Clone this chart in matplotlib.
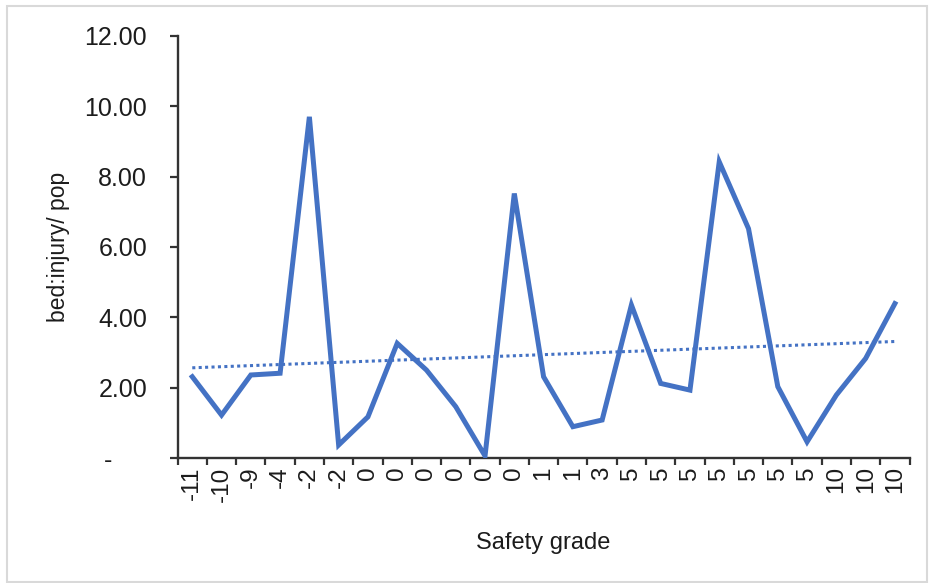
import matplotlib
matplotlib.use("Agg")
import matplotlib.pyplot as plt
from matplotlib.patches import Rectangle
from matplotlib.ticker import FixedLocator, FuncFormatter
import numpy as np

plt.rcParams['font.family'] = ['Liberation Sans', 'DejaVu Sans']

grades = ['-11', '-10', '-9', '-4', '-2', '-2', '0', '0', '0', '0', '0', '0',
          '1', '1', '3', '5', '5', '5', '5', '5', '5', '5', '10', '10', '10']
ratio = [2.31, 1.22, 2.36, 2.41, 9.70, 0.37, 1.17, 3.26, 2.50, 1.46, 0.06, 7.52,
         2.31, 0.89, 1.08, 4.35, 2.12, 1.93, 8.42, 6.52, 2.03, 0.46, 1.79, 2.83, 4.39]

blue = '#4472C4'
ink = '#1c1c1c'

fig = plt.figure(figsize=(9.3, 5.83), dpi=100)
ax = fig.add_axes([0.191, 0.2144, 0.787, 0.724])

x = np.arange(len(ratio))
ax.plot(x, ratio, color=blue, lw=3.6, solid_joinstyle='miter', zorder=3)

# linear trendline like Excel
k, b = np.polyfit(x, ratio, 1)
ax.plot(x, k * x + b, color=blue, lw=2.2, linestyle=(0, (1, 1.1)), zorder=2)

ax.set_xlim(-0.5, len(ratio) - 0.5)
ax.set_ylim(0, 12)

ax.set_yticks(np.arange(0, 12.1, 2))
ax.yaxis.set_major_formatter(FuncFormatter(lambda v, p: '-     ' if v == 0 else f'{v:.2f}'))

# ticks between categories, labels at centres
ax.xaxis.set_major_locator(FixedLocator(np.arange(-0.5, len(ratio), 1)))
ax.xaxis.set_major_formatter(FuncFormatter(lambda v, p: ''))
ax.xaxis.set_minor_locator(FixedLocator(x))
ax.set_xticklabels(grades, minor=True, rotation=90)
ax.tick_params(axis='x', which='minor', length=0, pad=6, labelsize=17.5, colors=ink)
ax.tick_params(axis='x', which='major', length=5, width=1.6, color='#333333')
ax.tick_params(axis='y', length=6, width=1.6, color='#333333', labelsize=18,
               labelcolor=ink, pad=16)

for s in ['top', 'right']:
    ax.spines[s].set_visible(False)
for s in ['left', 'bottom']:
    ax.spines[s].set_linewidth(1.7)
    ax.spines[s].set_color('#333333')

ax.set_xlabel('Safety grade', fontsize=17, color=ink, labelpad=22)
ax.set_ylabel('bed:injury/ pop', fontsize=16.5, color=ink, labelpad=10)

fig.patches.append(Rectangle((7 / 930, 0.002), 920 / 930, 1 - 6 / 583 - 0.002,
                             transform=fig.transFigure, fill=False,
                             edgecolor='#d9d9d9', lw=1.5))

fig.savefig('out.png', dpi=100)
